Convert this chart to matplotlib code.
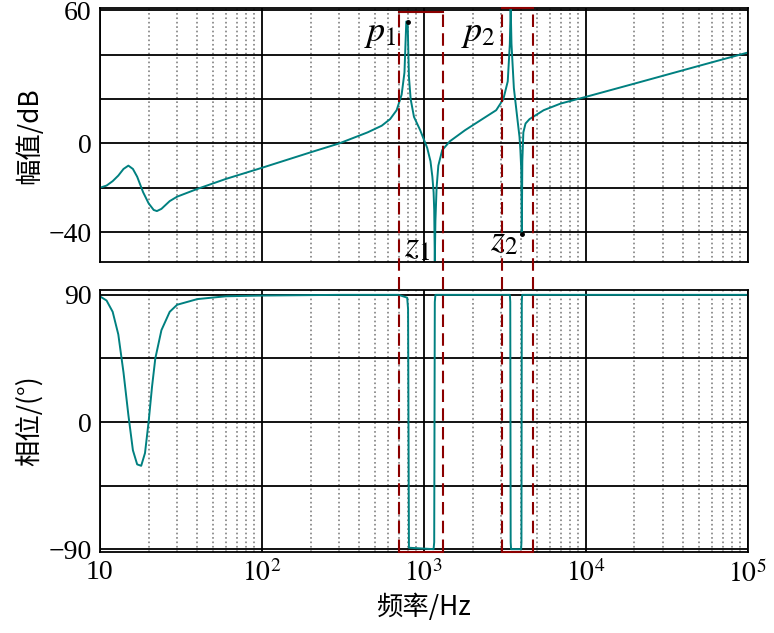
import numpy as np
import matplotlib.pyplot as plt
from matplotlib.lines import Line2D
from matplotlib.transforms import blended_transform_factory
from matplotlib.ticker import LogLocator, NullFormatter

plt.rcParams['font.family'] = 'serif'
plt.rcParams['font.serif'] = ['Liberation Serif', 'DejaVu Serif']
plt.rcParams['mathtext.fontset'] = 'stix'
cjk = ['Noto Sans CJK SC', 'Liberation Serif']

# --- данные: амплитуда (Гц, дБ) ---
mag_f = [10, 11, 12, 13, 14, 15, 16, 17, 18.5, 20, 21.5, 22.5, 24, 27, 30, 40, 60, 100, 200, 300,
         450, 550, 620, 680, 730, 760, 780, 795, 810, 830, 870, 950, 1050, 1100, 1130, 1150,
         1160, 1170, 1180, 1200, 1230, 1300, 1450, 1800, 2300, 2800, 3100, 3300, 3400, 3440,
         3480, 3600, 3800, 3900, 3950, 4000, 4030, 4060, 4120, 4250, 4500, 5500, 7000, 10000,
         20000, 50000, 100000]
mag_db = [-20, -19, -17, -14.5, -11.5, -10, -11.5, -15, -22, -27, -30, -30.5, -29.5, -26,
          -24, -20.5, -16, -11, -4, 0, 5, 8, 11, 15, 22, 32, 55, 55, 30, 20, 12, 6, -2, -8,
          -15, -22, -30, -53, -35, -20, -10, -3, 1, 6, 11, 15, 20, 28, 45, 62, 45, 25, 10, 3,
          -3, -12, -41, -8, 5, 9, 11, 15, 18, 21, 27, 35, 41]
# --- данные: фаза (Гц, градусы) ---
ph_f = [10, 11, 12, 13, 14, 15, 16, 17, 18, 19, 20, 21, 22, 24, 27, 30, 40, 60, 100, 300, 700,
        790, 800, 810, 1150, 1160, 1170, 1180, 3400, 3420, 3440, 3460, 3990, 4010, 4030, 4050, 100000]
ph_deg = [89, 86, 78, 62, 35, 5, -20, -30, -31, -22, 0, 25, 45, 65, 78, 83, 87, 89, 89.5, 90,
          90, 88, 80, -89, -90, -85, 85, 90, 90, 85, -85, -90, -90, -85, 85, 90, 90]

# особые точки и границы рамок
p1, z2 = (795, 55), (4030, -41)
box_f = [(700, 1310), (3020, 4710)]

fig = plt.figure(figsize=(7.74, 6.33), dpi=100)
ax1 = fig.add_axes([0.129, 0.586, 0.837, 0.401])
ax2 = fig.add_axes([0.129, 0.128, 0.837, 0.414])
teal = '#008080'

ax1.plot(mag_f, mag_db, color=teal, lw=1.4)
ax2.plot(ph_f, ph_deg, color=teal, lw=1.4)
ax1.plot(*p1, 'k.', ms=5)
ax1.plot(*z2, 'k.', ms=5)

for ax in (ax1, ax2):
    ax.set_xscale('log')
    ax.set_xlim(10, 1e5)
    ax.xaxis.set_minor_locator(LogLocator(subs=np.arange(2, 10)))
    ax.xaxis.set_minor_formatter(NullFormatter())
    ax.grid(True, which='major', color='black', lw=1.3)
    ax.grid(True, which='minor', axis='x', color='gray', ls=':', lw=1.2)
    ax.tick_params(labelsize=20, direction='in', length=0, which='both', pad=6)
    for s in ax.spines.values():
        s.set_linewidth(1.3)

ax1.set_ylim(-53.5, 61)
ax1.set_yticks([-40, -20, 0, 20, 40, 60])
ax1.set_yticklabels(['\u221240', '', '0', '', '', '60'])
ax1.set_xticklabels([])
ax2.set_ylim(-92, 93.5)
ax2.set_yticks([-90, -45, 0, 45, 90])
ax2.set_yticklabels(['\u221290', '', '0', '', '90'])
ax2.set_xticks([10, 100, 1000, 1e4, 1e5])
ax2.set_xticklabels(['10', '$10^2$', '$10^3$', '$10^4$', '$10^5$'])

ax1.set_ylabel('幅值/dB', fontsize=19, family=cjk)
ax2.set_ylabel('相位/(°)', fontsize=19, family=cjk)
ax2.set_xlabel('频率/Hz', fontsize=19, family=cjk)

ax1.text(430, 46, '$p_1$', fontsize=26)
ax1.text(1700, 46, '$p_2$', fontsize=26)
ax1.text(750, -51, '$z_1$', fontsize=26)
ax1.text(2550, -48, '$z_2$', fontsize=26)

# красные пунктирные рамки через оба графика
tr = blended_transform_factory(ax1.transData, fig.transFigure)
y_bot, tops = 0.128, [0.981, 0.987]
for (a, b), y_top in zip(box_f, tops):
    for xv in (a, b):
        fig.add_artist(Line2D([xv, xv], [y_bot, y_top], transform=tr, color='#8b0000',
                              ls=(0, (6, 3)), lw=1.5))
    for yv in (y_bot, y_top):
        fig.add_artist(Line2D([a, b], [yv, yv], transform=tr, color='#8b0000', lw=1.5))

fig.savefig('out.png', dpi=100)
